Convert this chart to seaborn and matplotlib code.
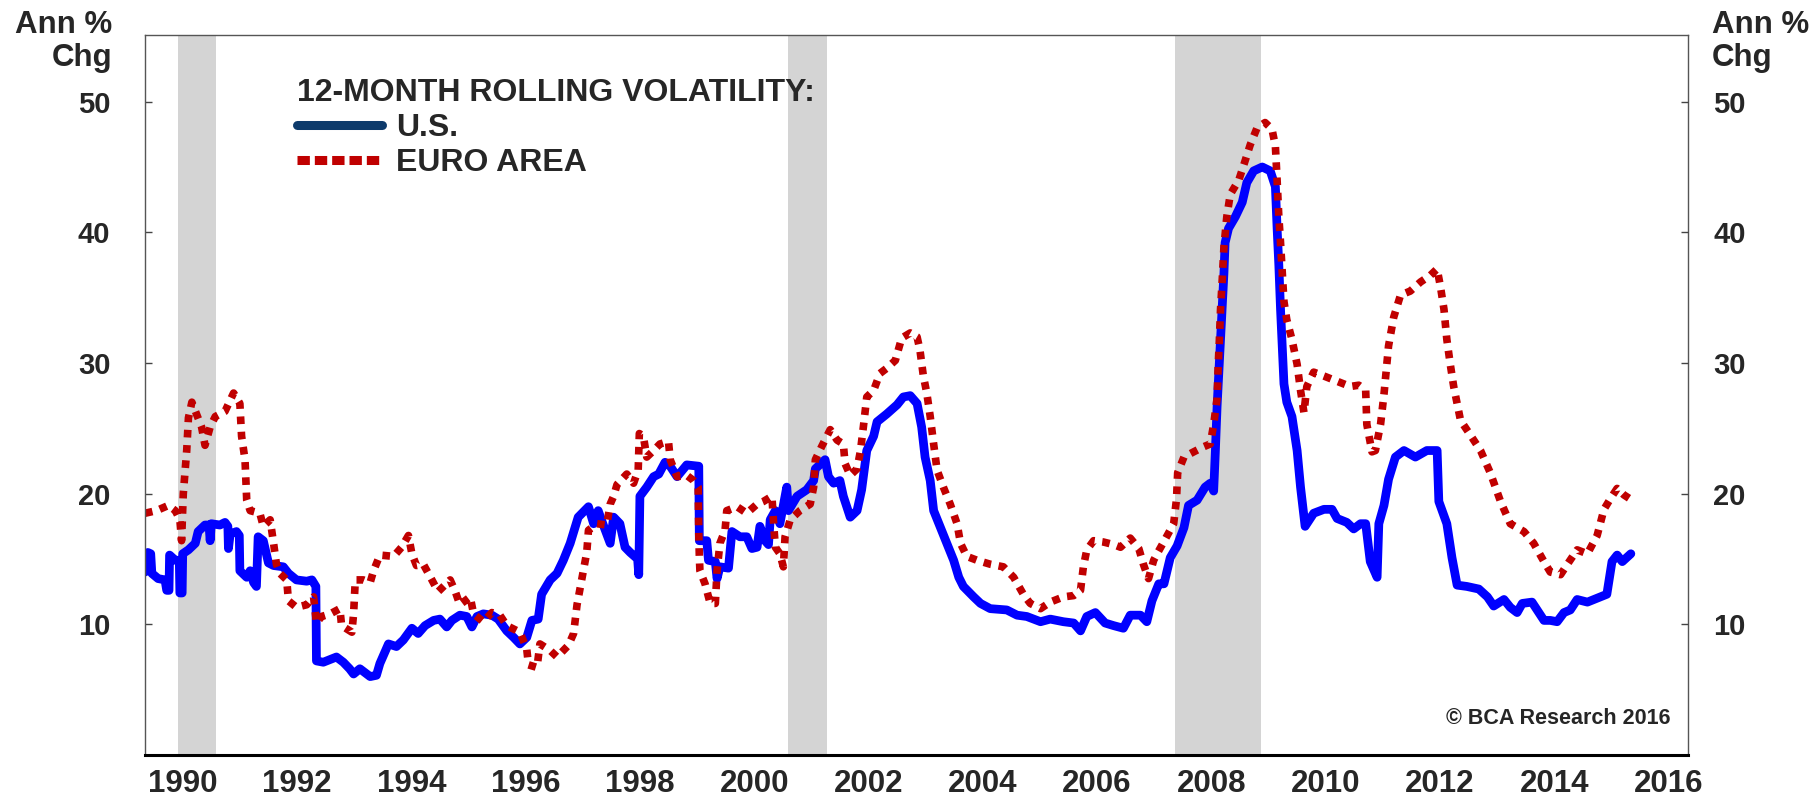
import numpy as np
import pandas as pd
import matplotlib
matplotlib.use("Agg")
import matplotlib.pyplot as plt
import seaborn as sns
from matplotlib.lines import Line2D

# 12-month rolling volatility (decimal years)
us_year = [1990.00, 1990.05, 1990.10, 1990.12, 1990.23, 1990.35, 1990.38, 1990.42, 1990.43, 1990.53,
           1990.60, 1990.61, 1990.65, 1990.66, 1990.76, 1990.88, 1990.93, 1991.05, 1991.12, 1991.14,
           1991.16, 1991.31, 1991.40, 1991.45, 1991.46, 1991.49, 1991.60, 1991.65, 1991.66, 1991.78,
           1991.84, 1991.90, 1991.95, 1991.98, 1992.07, 1992.16, 1992.25, 1992.42, 1992.51, 1992.65,
           1992.83, 1992.92, 1992.99, 1993.00, 1993.12, 1993.35, 1993.47, 1993.58, 1993.65, 1993.76,
           1993.94, 1994.05, 1994.11, 1994.26, 1994.40, 1994.52, 1994.67, 1994.78, 1994.90, 1995.05,
           1995.16, 1995.28, 1995.37, 1995.51, 1995.63, 1995.72, 1995.81, 1995.92, 1996.07, 1996.18,
           1996.33, 1996.45, 1996.56, 1996.68, 1996.77, 1996.88, 1996.94, 1997.09, 1997.21, 1997.32,
           1997.44, 1997.58, 1997.76, 1997.85, 1997.93, 1998.02, 1998.14, 1998.20, 1998.31, 1998.40,
           1998.49, 1998.62, 1998.64, 1998.66, 1998.78, 1998.90, 1998.99, 1999.10, 1999.19, 1999.31,
           1999.48, 1999.69, 1999.70, 1999.83, 1999.86, 1999.98, 2000.01, 2000.06, 2000.21, 2000.27,
           2000.41, 2000.53, 2000.62, 2000.71, 2000.76, 2000.85, 2000.91, 2000.94, 2001.03, 2001.11,
           2001.23, 2001.26, 2001.41, 2001.58, 2001.70, 2001.73, 2001.90, 2001.96, 2002.05, 2002.16,
           2002.22, 2002.34, 2002.46, 2002.54, 2002.63, 2002.75, 2002.81, 2002.98, 2003.16, 2003.27,
           2003.39, 2003.51, 2003.59, 2003.65, 2003.74, 2003.80, 2003.91, 2004.03, 2004.15, 2004.24,
           2004.32, 2004.50, 2004.62, 2004.79, 2005.08, 2005.26, 2005.43, 2005.67, 2005.84, 2006.07,
           2006.25, 2006.37, 2006.48, 2006.63, 2006.80, 2006.95, 2007.12, 2007.24, 2007.42, 2007.53,
           2007.62, 2007.74, 2007.83, 2007.94, 2008.06, 2008.18, 2008.26, 2008.41, 2008.55, 2008.64,
           2008.70, 2008.73, 2008.76, 2008.82, 2008.88, 2008.90, 2008.96, 2009.08, 2009.20, 2009.28,
           2009.40, 2009.55, 2009.69, 2009.78, 2009.81, 2009.84, 2009.87, 2009.90, 2009.93, 2009.98,
           2010.07, 2010.16, 2010.22, 2010.28, 2010.30, 2010.45, 2010.63, 2010.77, 2010.86, 2011.03,
           2011.15, 2011.27, 2011.36, 2011.44, 2011.56, 2011.59, 2011.68, 2011.76, 2011.88, 2012.03,
           2012.23, 2012.43, 2012.61, 2012.64, 2012.78, 2012.87, 2012.96, 2013.13, 2013.34, 2013.49,
           2013.60, 2013.78, 2013.89, 2014.01, 2014.10, 2014.27, 2014.36, 2014.48, 2014.59, 2014.71,
           2014.83, 2014.94, 2015.06, 2015.24, 2015.41, 2015.58, 2015.67, 2015.76, 2015.85, 2016.00]
us_vol = [14.0, 15.5, 15.4, 13.9, 13.5, 13.4, 12.6, 12.6, 15.3, 14.9,
          14.9, 12.4, 12.4, 15.4, 15.7, 16.2, 17.1, 17.6, 17.6, 16.4,
          17.7, 17.6, 17.8, 17.5, 15.8, 16.9, 17.1, 16.8, 14.1, 13.6,
          14.1, 13.2, 12.9, 16.7, 16.4, 14.7, 14.5, 14.4, 13.9, 13.4,
          13.3, 13.4, 12.9, 7.2, 7.1, 7.5, 7.1, 6.6, 6.2, 6.6,
          6.0, 6.1, 7.0, 8.5, 8.3, 8.8, 9.7, 9.3, 9.9, 10.3,
          10.4, 9.8, 10.3, 10.7, 10.6, 9.8, 10.6, 10.8, 10.7, 10.4,
          9.5, 9.0, 8.5, 9.0, 10.3, 10.4, 12.3, 13.4, 13.9, 14.9,
          16.2, 18.2, 19.0, 17.7, 18.7, 17.6, 16.2, 18.2, 17.7, 15.9,
          15.5, 15.0, 13.8, 19.8, 20.5, 21.3, 21.5, 22.4, 22.1, 21.3,
          22.2, 22.1, 16.4, 16.4, 14.9, 14.8, 13.5, 14.4, 14.3, 17.1,
          16.7, 16.7, 15.8, 15.9, 17.5, 16.4, 16.1, 18.0, 18.7, 17.7,
          20.5, 18.7, 19.8, 20.3, 21.0, 21.9, 22.6, 21.3, 20.8, 21.0,
          19.8, 18.2, 18.7, 20.3, 23.3, 24.4, 25.5, 26.1, 26.8, 27.4,
          27.5, 26.9, 25.1, 22.8, 21.0, 18.7, 17.5, 16.2, 14.9, 13.6,
          12.9, 12.1, 11.6, 11.2, 11.1, 10.7, 10.6, 10.2, 10.4, 10.2,
          10.1, 9.5, 10.6, 10.9, 10.1, 9.9, 9.7, 10.7, 10.7, 10.2,
          11.8, 13.1, 13.1, 15.1, 16.0, 17.4, 19.1, 19.5, 20.5, 20.8,
          20.2, 23.3, 26.7, 31.8, 36.9, 39.2, 40.3, 41.2, 42.3, 43.8,
          44.7, 45.0, 44.7, 43.5, 40.3, 37.5, 34.1, 31.3, 28.4, 27.0,
          25.9, 23.3, 20.5, 18.2, 17.5, 18.5, 18.8, 18.8, 18.1, 17.8,
          17.3, 17.7, 17.7, 14.8, 13.6, 17.7, 19.1, 21.1, 22.8, 23.3,
          22.8, 23.3, 23.3, 19.4, 17.7, 15.1, 13.0, 12.9, 12.7, 12.1,
          11.4, 11.9, 11.3, 10.9, 11.6, 11.7, 11.1, 10.3, 10.3, 10.2,
          10.9, 11.1, 11.9, 11.7, 12.0, 12.3, 14.8, 15.3, 14.8, 15.4]

ea_year = [1990.00, 1990.20, 1990.41, 1990.53, 1990.61, 1990.64, 1990.67, 1990.73, 1990.76, 1990.82,
           1990.90, 1990.99, 1991.05, 1991.14, 1991.23, 1991.40, 1991.55, 1991.66, 1991.69, 1991.75,
           1991.77, 1991.78, 1991.84, 1992.01, 1992.07, 1992.19, 1992.25, 1992.30, 1992.36, 1992.48,
           1992.51, 1992.65, 1992.83, 1992.95, 1993.00, 1993.09, 1993.24, 1993.41, 1993.44, 1993.62,
           1993.65, 1993.68, 1993.82, 1993.94, 1994.00, 1994.11, 1994.35, 1994.49, 1994.61, 1994.67,
           1994.75, 1994.87, 1995.02, 1995.13, 1995.34, 1995.43, 1995.51, 1995.69, 1995.75, 1995.92,
           1996.07, 1996.21, 1996.33, 1996.56, 1996.68, 1996.71, 1996.86, 1996.91, 1997.09, 1997.21,
           1997.41, 1997.50, 1997.56, 1997.64, 1997.73, 1997.76, 1997.91, 1998.08, 1998.14, 1998.20,
           1998.26, 1998.43, 1998.55, 1998.63, 1998.65, 1998.72, 1998.78, 1998.90, 1999.01, 1999.16,
           1999.19, 1999.31, 1999.48, 1999.60, 1999.68, 1999.69, 1999.70, 1999.71, 1999.80, 1999.89,
           1999.98, 2000.01, 2000.06, 2000.15, 2000.18, 2000.36, 2000.53, 2000.71, 2000.82, 2000.97,
           2001.00, 2001.03, 2001.11, 2001.17, 2001.20, 2001.29, 2001.46, 2001.64, 2001.70, 2001.73,
           2001.84, 2001.99, 2002.11, 2002.22, 2002.25, 2002.34, 2002.46, 2002.52, 2002.57, 2002.63,
           2002.75, 2002.86, 2002.98, 2003.13, 2003.24, 2003.39, 2003.51, 2003.56, 2003.62, 2003.68,
           2003.74, 2003.80, 2003.86, 2003.97, 2004.09, 2004.21, 2004.27, 2004.38, 2004.56, 2004.79,
           2005.02, 2005.20, 2005.37, 2005.49, 2005.67, 2005.84, 2006.07, 2006.25, 2006.37, 2006.42,
           2006.48, 2006.60, 2006.77, 2006.95, 2007.07, 2007.24, 2007.39, 2007.47, 2007.56, 2007.65,
           2007.71, 2007.85, 2008.00, 2008.05, 2008.07, 2008.18, 2008.35, 2008.53, 2008.64, 2008.70,
           2008.76, 2008.78, 2008.80, 2008.82, 2008.85, 2008.88, 2008.93, 2008.99, 2009.14, 2009.23,
           2009.34, 2009.46, 2009.60, 2009.72, 2009.78, 2009.81, 2009.84, 2009.87, 2009.90, 2009.93,
           2009.98, 2010.07, 2010.16, 2010.22, 2010.28, 2010.33, 2010.45, 2010.63, 2010.86, 2011.09,
           2011.24, 2011.36, 2011.38, 2011.47, 2011.53, 2011.62, 2011.68, 2011.76, 2011.85, 2011.97,
           2012.14, 2012.32, 2012.49, 2012.61, 2012.67, 2012.73, 2012.78, 2012.84, 2012.90, 2013.02,
           2013.19, 2013.37, 2013.54, 2013.72, 2013.89, 2014.13, 2014.30, 2014.48, 2014.59, 2014.77,
           2014.89, 2015.06, 2015.24, 2015.41, 2015.53, 2015.64, 2015.76, 2015.88, 2016.02]
ea_vol = [18.5, 18.7, 19.1, 18.7, 18.0, 16.4, 20.0, 23.3, 25.8, 27.0,
          26.1, 25.1, 23.7, 25.1, 25.9, 26.3, 27.7, 26.9, 24.4, 22.6,
          20.5, 19.5, 18.7, 18.5, 17.5, 18.0, 16.2, 14.6, 13.9, 13.4,
          11.8, 11.3, 11.5, 12.1, 10.1, 10.6, 10.8, 11.2, 9.9, 9.4,
          10.8, 13.4, 13.4, 13.2, 14.1, 15.3, 15.2, 15.9, 16.8, 15.4,
          14.5, 14.6, 13.4, 12.5, 13.4, 12.5, 11.5, 12.1, 10.8, 10.2,
          10.9, 10.7, 9.9, 9.4, 8.1, 6.9, 6.7, 8.5, 8.0, 7.5,
          8.4, 9.3, 11.5, 13.4, 15.5, 17.2, 17.7, 17.6, 19.2, 19.8,
          20.7, 21.5, 20.8, 21.8, 24.6, 24.4, 22.8, 23.3, 23.8, 24.0,
          22.6, 21.3, 21.4, 21.0, 20.5, 16.9, 15.2, 14.1, 13.1, 11.6,
          11.6, 14.1, 16.2, 17.2, 18.7, 19.0, 18.5, 19.2, 19.4, 19.8,
          17.7, 15.9, 15.4, 14.4, 16.7, 18.0, 18.7, 19.2, 20.5, 22.6,
          23.6, 24.9, 24.1, 23.8, 22.3, 21.4, 21.9, 23.3, 25.1, 27.4,
          27.9, 29.2, 29.6, 30.2, 31.9, 32.3, 32.0, 31.0, 29.0, 27.7,
          25.9, 23.8, 21.8, 20.5, 19.2, 17.7, 16.2, 15.2, 14.9, 14.6,
          14.4, 13.6, 12.3, 11.6, 11.2, 11.7, 12.1, 12.2, 12.6, 14.4,
          15.7, 16.4, 16.3, 16.1, 15.9, 16.6, 15.8, 14.6, 13.5, 14.9,
          15.4, 16.5, 17.7, 19.6, 21.6, 22.8, 23.2, 23.6, 23.8, 25.3,
          27.3, 29.9, 31.8, 34.1, 36.4, 38.9, 41.2, 42.9, 44.0, 45.2,
          46.7, 48.0, 48.4, 47.9, 46.6, 44.0, 41.2, 39.2, 36.9, 34.7,
          33.3, 31.8, 29.9, 27.9, 26.2, 28.2, 29.3, 29.0, 28.6, 28.2,
          28.3, 27.9, 25.3, 23.2, 23.3, 25.3, 27.6, 31.3, 33.5, 35.2,
          35.5, 36.2, 36.7, 37.2, 35.8, 34.1, 31.8, 29.9, 28.2, 25.6,
          24.5, 23.3, 21.6, 19.4, 17.7, 17.1, 16.2, 14.8, 14.0, 13.8,
          14.6, 15.7, 15.4, 16.8, 18.8, 19.6, 20.4, 19.9, 19.5]

# US recessions (shaded)
rec_start = [1990.58, 2001.25, 2008.02]
rec_end = [1991.24, 2001.94, 2009.52]

year_ticks = list(range(1990, 2017))
year_labels = [str(y) for y in range(1990, 2017, 2)]
y_ticks = [10, 20, 30, 40, 50]

us_df = pd.DataFrame({"year": us_year, "vol": us_vol})
ea_df = pd.DataFrame({"year": ea_year, "vol": ea_vol})

sns.set_style("white")
plt.rcParams["font.family"] = ["Liberation Sans", "DejaVu Sans"]
plt.rcParams["font.weight"] = "bold"

W, H = 1816, 797
fig = plt.figure(figsize=(W / 100, H / 100), dpi=100)
ax = fig.add_axes([145 / W, 1 - 755 / H, (1688 - 145) / W, (755 - 35) / H])

for s, e in zip(rec_start, rec_end):
    ax.axvspan(s, e, color="#d4d4d4", lw=0, zorder=0)

sns.lineplot(data=us_df, x="year", y="vol", ax=ax, color="#0000ff", lw=6.3,
             sort=False, estimator=None, legend=False,
             solid_joinstyle="round", solid_capstyle="round")
sns.lineplot(data=ea_df, x="year", y="vol", ax=ax, color="#c00000", lw=5.5,
             sort=False, estimator=None, legend=False,
             linestyle=(0, (1.0, 1.0)))

ax.set_xlim(1990, 2017)
ax.set_ylim(0, 55.1)
ax.set_xlabel("")
ax.set_ylabel("")

# year ticks on the axis, labels sit inside each year
ax.set_xticks(year_ticks, minor=True)
ax.set_xticks([int(l) + 0.66 for l in year_labels])
ax.set_xticklabels(year_labels)
ax.tick_params(axis="x", which="minor", direction="in", length=6, width=1, color="#444444")
ax.tick_params(axis="x", which="major", length=0, pad=10, labelsize=22.5)

ax.set_yticks(y_ticks)
ax.tick_params(axis="y", direction="in", length=5, width=1, color="#444444",
               pad=25, labelsize=21, left=True)

ax2 = ax.twinx()
ax2.set_ylim(ax.get_ylim())
ax2.set_yticks(y_ticks)
ax2.tick_params(axis="y", direction="in", length=5, width=1, color="#444444",
                pad=18, labelsize=21)
for sp in ax2.spines.values():
    sp.set_visible(False)

for side in ["left", "right", "top"]:
    ax.spines[side].set_color("#555555")
    ax.spines[side].set_linewidth(1)
ax.spines["bottom"].set_color("black")
ax.spines["bottom"].set_linewidth(2.2)

handles = [Line2D([], [], color="#0d3a6b", lw=6.5),
           Line2D([], [], color="#c00000", lw=6.5, linestyle=(0, (1.37, 0.55)))]
ax.legend(handles, ["U.S.", "EURO AREA"], title="12-MONTH ROLLING VOLATILITY:",
          loc="upper left", bbox_to_anchor=(281 / W, 1 - 62 / H),
          bbox_transform=fig.transFigure, frameon=False, alignment="left",
          prop={"weight": "bold", "size": 23},
          title_fontproperties={"weight": "bold", "size": 23},
          handlelength=2.65, handletextpad=0.45, labelspacing=0.16, borderpad=0)

fig.text(112 / W, 1 - 10 / H, "Ann %\nChg", ha="right", va="top", size=22.5,
         weight="bold", linespacing=1.15, multialignment="right")
fig.text(1712 / W, 1 - 10 / H, "Ann %\nChg", ha="left", va="top", size=22.5,
         weight="bold", linespacing=1.15, multialignment="left")
fig.text(1671 / W, 1 - 718 / H, "\u00a9 BCA Research 2016", ha="right", va="center",
         size=15.5, weight="bold")

fig.savefig("out.png", dpi=100)
